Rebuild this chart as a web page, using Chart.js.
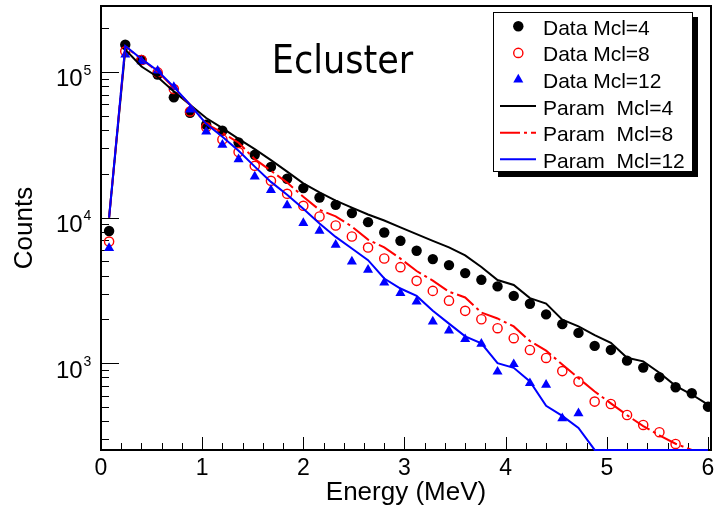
<!DOCTYPE html>
<html>
<head>
<meta charset="utf-8">
<script src="https://cdn.jsdelivr.net/npm/chart.js@4.4.1/dist/chart.umd.min.js"></script>
<style>
  html, body { margin: 0; padding: 0; background: #ffffff; }
  #wrap { width: 715px; height: 512px; }
</style>
</head>
<body>
<div id="wrap"><canvas id="c" width="715" height="512"></canvas></div>
<script>
// ---------------- data ----------------
const TITLE = 'Ecluster';
const X_TITLE = 'Energy (MeV)';
const Y_TITLE = 'Counts';
const X_TICKS = [0, 1, 2, 3, 4, 5, 6];
const Y_DECADES = [3, 4, 5];
const X_RANGE = [0, 6.03];
const Y_RANGE = [253.6, 284000];

// bin centres (MeV)
const ENERGY = [0.08, 0.24, 0.40, 0.56, 0.72, 0.88, 1.04, 1.20, 1.36, 1.52,
                1.68, 1.84, 2.00, 2.16, 2.32, 2.48, 2.64, 2.80, 2.96, 3.12,
                3.28, 3.44, 3.60, 3.76, 3.92, 4.08, 4.24, 4.40, 4.56, 4.72,
                4.88, 5.04, 5.20, 5.36, 5.52, 5.68, 5.84, 6.00];

const DATA_MCL4 = [8100, 154000, 121000, 96000, 67000, 52500, 43400, 39500, 32800, 27000,
                   22300, 18500, 15950, 13750, 12240, 10740, 9310, 7900, 6930, 5920,
                   5190, 4720, 4160, 3740, 3370, 2900, 2560, 2165, 1855, 1615,
                   1315, 1234, 1042, 933, 802, 684, 622, 503];

const DATA_MCL8 = [6850, 138600, 121000, 99400, 76400, 53600, 41700, 34400, 28200, 22700,
                   17900, 14580, 12060, 10180, 8830, 7420, 6230, 5240, 4570, 3680,
                   3140, 2690, 2290, 2005, 1740, 1486, 1234, 1087, 883, 748,
                   545, 525, 441, 377, 336, 279, null, null];

const DATA_MCL12 = [6170, 131500, 118300, 102100, 78900, 55100, 38900, 31650, 25100, 19150,
                    15450, 12150, 9170, 8110, 6500, 4990, 4380, 3580, 3030, 2650,
                    1930, 1675, 1462, 1358, 875, 985, 729, 710, 418, 453,
                    null, null, null, null, null, null, null, null];

const PARAM_MCL4 = [10000, 142500, 109000, 92400, 73600, 59600, 48300, 41200, 34700, 29500,
                    24800, 20700, 17200, 14900, 13100, 11700, 10500, 9560, 8580, 7710,
                    6930, 6240, 5500, 4580, 3730, 3450, 2800, 2570, 1990, 1790,
                    1560, 1380, 1090, 1030, 860, 700, 610, 520];

const PARAM_MCL8 = [10000, 149000, 123000, 100500, 78000, 59600, 44100, 38300, 32700, 25200,
                    21000, 17400, 13900, 11300, 10200, 8690, 7060, 6250, 5230, 4300,
                    3690, 3100, 2830, 2230, 2030, 1790, 1420, 1220, 980, 790,
                    640, 530, 440, 370, 320, 280, 254, 254];

const PARAM_MCL12 = [10000, 151000, 123000, 102000, 79000, 59600, 44100, 35900, 28800, 22400,
                     17600, 14350, 11500, 9100, 7370, 6140, 5100, 3820, 3260, 2900,
                     2290, 1870, 1530, 1370, 1000, 930, 750, 510, 435, 360,
                     254, 254, 254, 254, 254, 254, 254, 254];

const LABELS = ['Data Mcl=4', 'Data Mcl=8', 'Data Mcl=12',
                'Param  Mcl=4', 'Param  Mcl=8', 'Param  Mcl=12'];

// ---------------- helpers ----------------
function pts(ys) { return ENERGY.map((x, i) => ({ x: x, y: ys[i] })); }

const FONT = '"Liberation Sans", Arial, Helvetica, sans-serif';

const datasets = [
  { label: LABELS[0], data: pts(DATA_MCL4), showLine: false, order: 6,
    pointStyle: 'circle', pointRadius: 5.2, pointBackgroundColor: '#000000',
    pointBorderColor: '#000000', pointBorderWidth: 0, borderColor: '#000000', kind: 'point' },
  { label: LABELS[1], data: pts(DATA_MCL8), showLine: false, order: 5,
    pointStyle: 'circle', pointRadius: 4.6, pointBackgroundColor: 'rgba(0,0,0,0)',
    pointBorderColor: '#ff0000', pointBorderWidth: 1.4, borderColor: '#ff0000', kind: 'point' },
  { label: LABELS[2], data: pts(DATA_MCL12), showLine: false, order: 4,
    pointStyle: 'triangle', pointRadius: 5.8, pointBackgroundColor: '#0000ff',
    pointBorderColor: '#0000ff', pointBorderWidth: 0, borderColor: '#0000ff', kind: 'point' },
  { label: LABELS[3], data: pts(PARAM_MCL4), showLine: true, order: 3, clip: 3,
    borderColor: '#000000', borderWidth: 2, pointRadius: 0, tension: 0, kind: 'line' },
  { label: LABELS[4], data: pts(PARAM_MCL8), showLine: true, order: 2, clip: 3,
    borderColor: '#ff0000', borderWidth: 2, borderDash: [20, 4, 3, 4], pointRadius: 0, tension: 0, kind: 'line' },
  { label: LABELS[5], data: pts(PARAM_MCL12), showLine: true, order: 1, clip: 3,
    borderColor: '#0000ff', borderWidth: 2, pointRadius: 0, tension: 0, kind: 'line' }
];

// ---------------- ROOT-like frame, ticks, labels, legend ----------------
const rootPlugin = {
  id: 'rootStyle',
  beforeDraw(chart) {
    const ctx = chart.ctx;
    ctx.save();
    ctx.fillStyle = '#ffffff';
    ctx.fillRect(0, 0, chart.width, chart.height);
    ctx.restore();
  },
  beforeDatasetsDraw(chart) {
    const { ctx, chartArea: a, scales: { x, y } } = chart;
    ctx.save();
    ctx.strokeStyle = '#000000';
    ctx.lineWidth = 1;
    // y ticks (inward, log)
    for (let d = Y_DECADES[0] - 1; d <= Y_DECADES[Y_DECADES.length - 1]; d++) {
      for (let m = 1; m <= 9; m++) {
        const v = m * Math.pow(10, d);
        if (v < y.min || v > y.max) continue;
        const py = Math.round(y.getPixelForValue(v)) + 0.5;
        const len = (m === 1) ? 18 : 8;
        ctx.beginPath();
        ctx.moveTo(a.left, py);
        ctx.lineTo(a.left + len, py);
        ctx.stroke();
      }
    }
    // x ticks (inward)
    for (let i = 0; i <= 30; i++) {
      const v = i * 0.2;
      if (v > x.max + 1e-9) break;
      const px = Math.round(x.getPixelForValue(v)) + 0.5;
      const len = (i % 5 === 0) ? 13 : 7;
      ctx.beginPath();
      ctx.moveTo(px, a.bottom);
      ctx.lineTo(px, a.bottom - len);
      ctx.stroke();
    }
    // frame
    ctx.lineWidth = 2;
    ctx.strokeRect(a.left, a.top, a.right - a.left, a.bottom - a.top);
    ctx.restore();
  },
  afterDraw(chart) {
    const { ctx, scales: { x, y } } = chart;
    ctx.save();
    ctx.fillStyle = '#000000';
    // y tick labels 10^n
    for (const d of Y_DECADES) {
      const py = y.getPixelForValue(Math.pow(10, d));
      ctx.font = '24px ' + FONT;
      ctx.textAlign = 'right';
      ctx.textBaseline = 'alphabetic';
      ctx.fillText('10', 82.7, py + 14.3);
      ctx.font = '14px ' + FONT;
      ctx.textAlign = 'left';
      ctx.fillText(String(d), 83.5, py + 2.7);
    }
    // x tick labels
    ctx.font = '23px ' + FONT;
    ctx.textAlign = 'center';
    ctx.textBaseline = 'alphabetic';
    for (const v of X_TICKS) {
      ctx.fillText(String(v), x.getPixelForValue(v), 475);
    }
    // title inside the frame
    ctx.font = '39px "DejaVu Sans Condensed", "DejaVu Sans", sans-serif';
    ctx.textAlign = 'center';
    ctx.fillText(TITLE, 342.5, 72.5);

    // legend with shadow
    const bx = 493, by = 12, bw = 200, bh = 160;
    ctx.fillStyle = '#000000';
    ctx.fillRect(bx + 5, by + 5, bw, bh);
    ctx.fillStyle = '#ffffff';
    ctx.fillRect(bx, by, bw, bh);
    ctx.strokeStyle = '#000000';
    ctx.lineWidth = 1;
    ctx.strokeRect(bx + 0.5, by + 0.5, bw - 1, bh - 1);
    chart.data.datasets.forEach((ds, i) => {
      const ry = 26.3 + i * 26.6;
      if (ds.kind === 'point') {
        ctx.save();
        ctx.fillStyle = ds.pointBackgroundColor;
        ctx.strokeStyle = ds.pointBorderColor;
        ctx.lineWidth = ds.pointBorderWidth;
        Chart.helpers.drawPoint(ctx, {
          pointStyle: ds.pointStyle, radius: ds.pointRadius, rotation: 0,
          borderWidth: ds.pointBorderWidth
        }, 518.3, ry);
        ctx.restore();
      } else {
        ctx.save();
        ctx.strokeStyle = ds.borderColor;
        ctx.lineWidth = ds.borderWidth;
        ctx.setLineDash(ds.borderDash || []);
        ctx.beginPath();
        ctx.moveTo(500, ry);
        ctx.lineTo(536, ry);
        ctx.stroke();
        ctx.restore();
      }
      ctx.fillStyle = '#000000';
      ctx.font = '21px ' + FONT;
      ctx.textAlign = 'left';
      ctx.textBaseline = 'alphabetic';
      ctx.fillText(ds.label, 543, ry + 8.5);
    });
    ctx.restore();
  }
};

new Chart(document.getElementById('c').getContext('2d'), {
  type: 'line',
  data: { datasets: datasets },
  options: {
    responsive: false,
    animation: false,
    devicePixelRatio: 1,
    layout: { padding: { left: 0, top: 6, right: 4, bottom: 0 }, autoPadding: false },
    plugins: { legend: { display: false }, tooltip: { enabled: false }, title: { display: false } },
    scales: {
      x: {
        type: 'linear', position: 'bottom', min: X_RANGE[0], max: X_RANGE[1],
        grid: { display: false, drawTicks: false, tickLength: 0 },
        border: { display: false },
        ticks: { display: false },
        title: { display: true, text: X_TITLE, color: '#000000',
                 font: { family: FONT, size: 26 }, padding: { top: 0, bottom: 3.4 } },
        afterFit(scale) { scale.height = 62; }
      },
      y: {
        type: 'logarithmic', position: 'left', min: Y_RANGE[0], max: Y_RANGE[1],
        grid: { display: false, drawTicks: false, tickLength: 0 },
        border: { display: false },
        ticks: { display: false },
        title: { display: true, text: Y_TITLE, color: '#000000',
                 font: { family: FONT, size: 26 }, padding: { top: 9.4, bottom: 0 } },
        afterFit(scale) { scale.width = 101; }
      }
    }
  },
  plugins: [rootPlugin]
});
</script>
</body>
</html>
